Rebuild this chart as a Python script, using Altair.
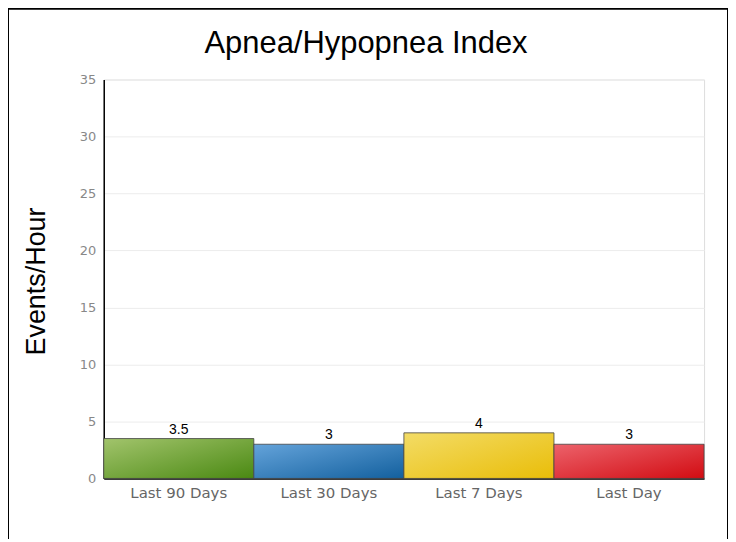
import altair as alt
import pandas as pd

categories = ["Last 90 Days", "Last 30 Days", "Last 7 Days", "Last Day"]
values = [3.5, 3, 4, 3]
y_ticks = [0, 5, 10, 15, 20, 25, 30, 35]
title_text = "Apnea/Hypopnea Index"

# gradient styles (light top-left -> dark bottom-right)
light = ["#a2c46c", "#64a3da", "#f3dc66", "#ec626b"]
dark = ["#4a8912", "#13609e", "#e9bd08", "#d20c12"]

df = pd.DataFrame({"period": categories, "aph": values})

x_enc = alt.X(
    "period:N", sort=categories,
    scale=alt.Scale(paddingInner=0, paddingOuter=0),
    axis=alt.Axis(title=None, labelAngle=0, ticks=False, domainColor="black",
                  domainWidth=1.5, labelColor="#666666", labelFont="DejaVu Sans",
                  labelFontSize=15, labelPadding=7, grid=False),
)
y_enc = alt.Y(
    "aph:Q",
    scale=alt.Scale(domain=[0, 35], nice=False),
    axis=alt.Axis(values=y_ticks, title="Events/Hour", titleFont="Liberation Sans",
                  titleFontSize=27, titleFontWeight="normal", titleColor="black",
                  titleAngle=-90, titleX=-67, titleY=202, titleAlign="center",
                  titleBaseline="middle", ticks=False, domainColor="black",
                  domainWidth=1.5, labelColor="#888888", labelFont="DejaVu Sans",
                  labelFontSize=13, labelPadding=8, gridColor="#ececec", gridWidth=1),
)

base = alt.Chart(df)

layers = []
for i, cat in enumerate(categories):
    grad = alt.Gradient(
        gradient="linear",
        stops=[alt.GradientStop(color=light[i], offset=0),
               alt.GradientStop(color=dark[i], offset=1)],
        x1=0, y1=0, x2=1, y2=1,
    )
    layers.append(
        base.transform_filter(alt.datum.period == cat)
        .mark_bar(color=grad, stroke="#444444", strokeWidth=1, strokeOpacity=0.8)
        .encode(x=x_enc, y=y_enc)
    )

labels = base.mark_text(baseline="alphabetic", dy=-5, font="Liberation Sans",
                        fontSize=14, color="black").encode(
    x=x_enc, y=y_enc, text=alt.Text("aph:Q"))

title = alt.Chart(alt.Data(values=[{"t": title_text}])).mark_text(
    font="Liberation Sans", fontSize=31, color="black", align="center",
    baseline="alphabetic").encode(
    text="t:N", x=alt.value(263), y=alt.value(-27))

frame = alt.Chart(alt.Data(values=[{}])).mark_rect(
    fill=None, stroke="black", strokeWidth=2).encode(
    x=alt.value(-96), x2=alt.value(626), y=alt.value(-71), y2=alt.value(500))

chart = alt.layer(*layers, labels, title, frame).properties(
    width=602, height=400,
    autosize=alt.AutoSizeParams(type="none"),
    padding={"left": 96, "top": 71, "right": 24, "bottom": 60},
).configure_view(stroke=None).configure(background="white")

chart.save("out.html", embed_options={"renderer": "svg", "actions": False})
